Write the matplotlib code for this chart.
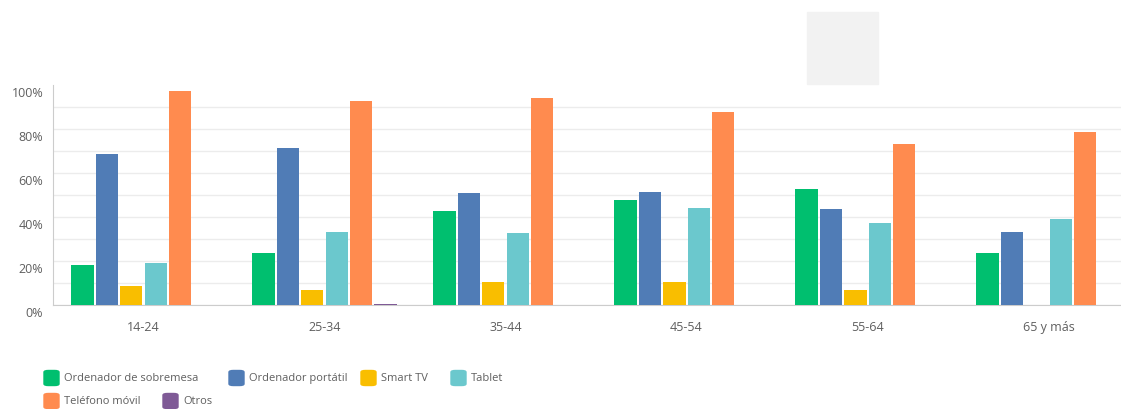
import matplotlib.pyplot as plt
import numpy as np
from matplotlib.patches import Rectangle, FancyBboxPatch
from matplotlib.transforms import ScaledTranslation

plt.rcParams['font.family'] = ['Open Sans', 'DejaVu Sans']

# datos (porcentajes)
grupos = ["14-24", "25-34", "35-44", "45-54", "55-64", "65 y más"]
series = ["Ordenador de sobremesa", "Ordenador portátil", "Smart TV",
          "Tablet", "Teléfono móvil", "Otros"]
sobremesa = [18.2, 23.6, 42.6, 47.6, 52.7, 23.6]
portatil = [68.6, 71.2, 51.1, 51.5, 43.6, 33.0]
smart_tv = [8.6, 6.7, 10.6, 10.6, 7.0, 0.0]
tablet = [19.1, 33.2, 32.6, 44.1, 37.1, 39.1]
movil = [97.1, 92.7, 94.1, 87.6, 73.0, 78.6]
otros = [0.0, 0.5, 0.0, 0.0, 0.0, 0.0]
valores = [sobremesa, portatil, smart_tv, tablet, movil, otros]
colores = ["#00BF6F", "#507CB6", "#F9BE00", "#6BC8CD", "#FF8B4F", "#7F5A96"]

W, H = 1121, 410
fig = plt.figure(figsize=(W / 100, H / 100), dpi=100)
ax = fig.add_axes([53 / W, 104 / H, (W - 53) / W, 220 / H])

x = np.arange(len(grupos))
slot = 24.4 / 181
ancho = 22.3 / 181
for i, (v, c) in enumerate(zip(valores, colores)):
    ax.bar(x + (i - 2.5) * slot, v, width=ancho, color=c, zorder=3)

ax.set_xlim(-0.5, 5.4)
ax.set_ylim(0, 100)
ax.set_yticks(np.arange(0, 101, 20))
ax.set_yticklabels([f"{t}%" for t in range(0, 101, 20)])
ax.set_yticks(np.arange(10, 100, 20), minor=True)
ax.grid(axis='y', which='both', color='#ececec', linewidth=1, zorder=0)
ax.yaxis.get_gridlines()[-1].set_visible(False)  # sin linea en 100%
ax.set_xticks(x)
ax.set_xticklabels(grupos)
ax.tick_params(axis='both', which='both', length=0, labelsize=9, colors='#5f5f5f')
ax.tick_params(axis='y', pad=7)
ax.tick_params(axis='x', pad=11)
for lab in ax.get_yticklabels():
    lab.set_transform(lab.get_transform() + ScaledTranslation(0, -6 / 100, fig.dpi_scale_trans))

for s in ['top', 'right']:
    ax.spines[s].set_visible(False)
ax.spines['left'].set_color('#cccccc')
ax.spines['bottom'].set_color('#cccccc')

# recuadro gris de arriba
fig.patches.append(Rectangle((807 / W, (H - 85) / H), 71 / W, 72 / H,
                             transform=fig.transFigure, color='#f2f2f2', zorder=0))

# leyenda manual
pos = [(44, 379), (229, 379), (361, 379), (451, 379), (44, 402), (163, 402)]
for (px, py), nombre, c in zip(pos, series, colores):
    fig.patches.append(FancyBboxPatch((px / W, (H - py - 7.5) / H), 15 / W, 15 / H,
                                      boxstyle="round,pad=0,rounding_size=0.004",
                                      transform=fig.transFigure, color=c))
    fig.text((px + 20) / W, (H - py) / H, nombre, fontsize=8, color='#5f5f5f', va='center')

fig.savefig("out.png", dpi=100)
